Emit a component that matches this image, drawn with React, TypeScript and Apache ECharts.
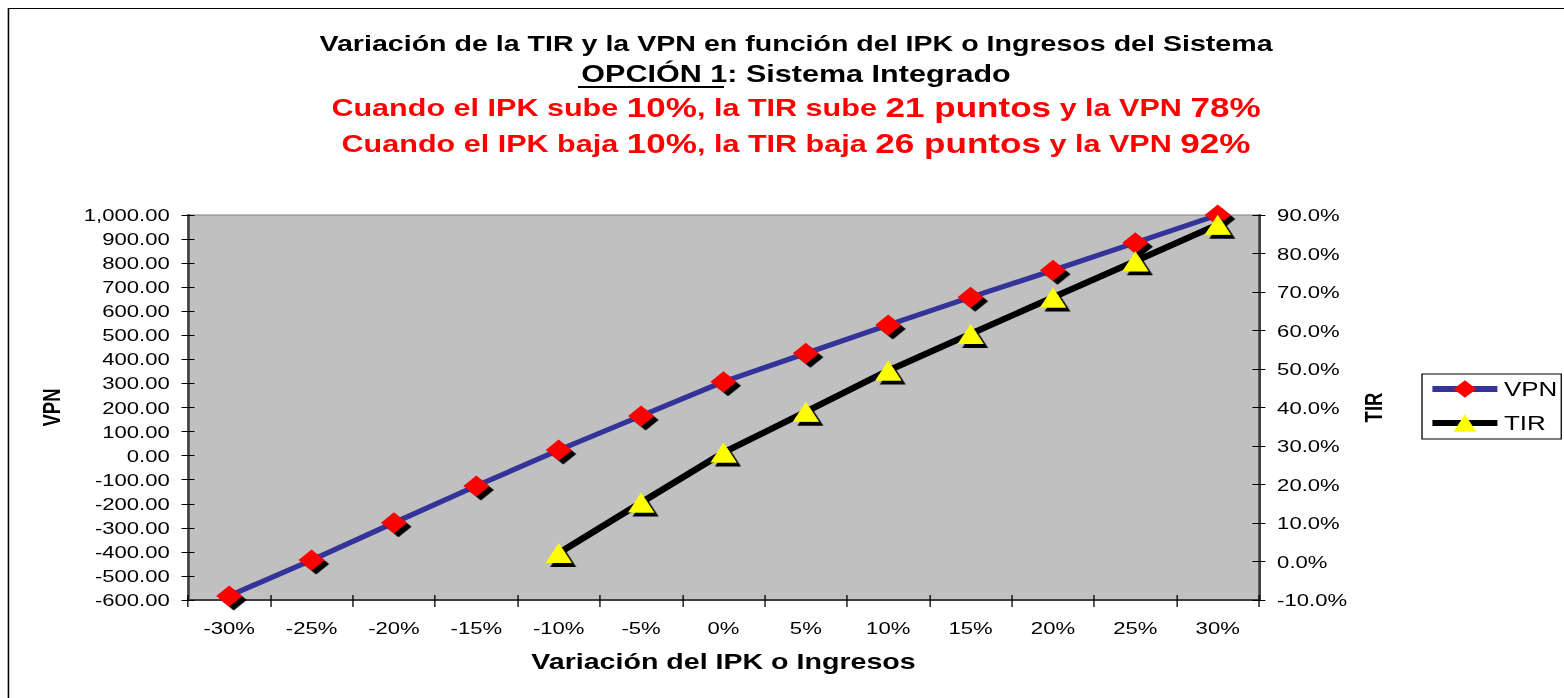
import React, { useEffect, useRef } from 'react';
import * as echarts from 'echarts';

// ---- data ----
const categories = ['-30%', '-25%', '-20%', '-15%', '-10%', '-5%', '0%', '5%', '10%', '15%', '20%', '25%', '30%'];
const vpnValues = [-583, -434, -279, -126, 23, 165, 307, 425, 543, 658, 770, 885, 1000];
const tirValues: (number | null)[] = [null, null, null, null, 2.2, 15.3, 28.3, 38.9, 49.6, 59.1, 68.6, 78.0, 87.5];
const seriesNames = ['VPN', 'TIR'];
const titleLine1 = 'Variación de la TIR y la VPN en función del IPK o Ingresos del Sistema';
const titleLine2 = '{u|OPCIÓN 1}: Sistema Integrado';
const titleLine3 = 'Cuando el IPK sube {b|10%}, la TIR sube {b|21 puntos} y la VPN {b|78%}';
const titleLine4 = 'Cuando el IPK baja {b|10%}, la TIR baja {b|26 puntos} y la VPN {b|92%}';
const xAxisName = 'Variación del IPK o Ingresos';

// ---- layout ----
const SX = 1.3; // the original picture is stretched horizontally
const W = 1564 / SX;
const H = 698;
const FF = '"Liberation Sans", Arial, Helvetica, sans-serif';
const CX = 796 / SX;

const fmtVpn = (v: number) =>
  v.toLocaleString('en-US', { minimumFractionDigits: 2, maximumFractionDigits: 2 });
const fmtTir = (v: number) => v.toFixed(1) + '%';

export default function App() {
  const ref = useRef<HTMLDivElement>(null);
  useEffect(() => {
    const chart = echarts.init(ref.current!, null, { renderer: 'svg' });
    const axisLineStyle = { color: '#404040', width: 2 };
    const tickStyle = { color: '#000', width: 1 };
    const labelStyle = { fontSize: 17, color: '#000', fontFamily: FF };
    const nameStyle = { fontSize: 18.5, fontWeight: 'bold' as const, color: '#000', fontFamily: FF };
    const option: any = {
      animation: false,
      textStyle: { fontFamily: FF },
      grid: {
        left: 188 / SX,
        right: W - 1259 / SX,
        top: 215,
        bottom: H - 600,
        show: true,
        backgroundColor: '#C0C0C0',
        borderColor: '#808080',
        borderWidth: 1,
      },
      graphic: [
        {
          type: 'rect',
          silent: true,
          shape: { x: 6.5, y: 8.5, width: 3000, height: 3000 },
          style: { fill: 'none', stroke: '#000', lineWidth: 1.2 },
        },
        {
          type: 'text',
          x: CX,
          y: 43,
          style: {
            text: titleLine1,
            fontSize: 22,
            fontWeight: 'bold',
            fontFamily: FF,
            fill: '#000',
            align: 'center',
            verticalAlign: 'middle',
          },
        },
        {
          type: 'text',
          x: CX,
          y: 74,
          style: {
            text: titleLine2,
            fontSize: 23.5,
            fontWeight: 'bold',
            fontFamily: FF,
            fill: '#000',
            align: 'center',
            verticalAlign: 'middle',
            rich: { u: { fontSize: 23.5, fontWeight: 'bold', fontFamily: FF, fill: '#000' } },
          },
        },
        {
          type: 'line',
          silent: true,
          shape: { x1: 578 / SX, y1: 87, x2: 724 / SX, y2: 87 },
          style: { stroke: '#000', lineWidth: 2 },
        },
        {
          type: 'text',
          x: CX,
          y: 108,
          style: {
            text: titleLine3,
            fontSize: 23.5,
            fontWeight: 'bold',
            fontFamily: FF,
            fill: '#FF0000',
            align: 'center',
            verticalAlign: 'middle',
            rich: { b: { fontSize: 27, fontWeight: 'bold', fontFamily: FF, fill: '#FF0000' } },
          },
        },
        {
          type: 'text',
          x: CX,
          y: 144,
          style: {
            text: titleLine4,
            fontSize: 23.5,
            fontWeight: 'bold',
            fontFamily: FF,
            fill: '#FF0000',
            align: 'center',
            verticalAlign: 'middle',
            rich: { b: { fontSize: 27, fontWeight: 'bold', fontFamily: FF, fill: '#FF0000' } },
          },
        },
      ],
      legend: {
        orient: 'vertical',
        left: 1422 / SX,
        top: 374,
        borderColor: '#000',
        borderWidth: 1,
        padding: [4, 3, 5, 5],
        itemWidth: 50,
        itemHeight: 22,
        itemGap: 12,
        selectedMode: false,
        data: seriesNames,
        textStyle: { fontSize: 20, color: '#000', fontFamily: FF, lineHeight: 22 },
        lineStyle: { width: 6 },
        itemStyle: { shadowBlur: 0, shadowOffsetX: 0, shadowOffsetY: 0, shadowColor: 'rgba(0,0,0,0)' },
      },
      xAxis: [
        {
          type: 'category',
          data: categories,
          position: 'bottom',
          boundaryGap: true,
          axisLine: { show: true, onZero: false, lineStyle: axisLineStyle },
          axisTick: { show: true, inside: false, length: 7, lineStyle: tickStyle },
          axisLabel: { ...labelStyle, margin: 19 },
          splitLine: { show: false },
          name: xAxisName,
          nameLocation: 'middle',
          nameGap: 50,
          nameTextStyle: { fontSize: 22, fontWeight: 'bold', color: '#000', fontFamily: FF },
        },
        {
          type: 'category',
          data: categories,
          position: 'bottom',
          boundaryGap: true,
          axisLine: { show: false, onZero: false },
          axisTick: { show: true, inside: true, length: 5, lineStyle: tickStyle },
          axisLabel: { show: false },
          splitLine: { show: false },
        },
      ],
      yAxis: [
        {
          type: 'value',
          position: 'left',
          min: -600,
          max: 1000,
          interval: 100,
          axisLine: { show: true, lineStyle: axisLineStyle },
          axisTick: { show: true, inside: false, length: 5, lineStyle: tickStyle },
          axisLabel: { ...labelStyle, margin: 14, formatter: fmtVpn },
          splitLine: { show: false },
          name: 'VPN',
          nameLocation: 'middle',
          nameGap: 95,
          nameTextStyle: nameStyle,
        },
        {
          type: 'value',
          position: 'right',
          min: -10,
          max: 90,
          interval: 10,
          axisLine: { show: true, lineStyle: axisLineStyle },
          axisTick: { show: true, inside: false, length: 5, lineStyle: tickStyle },
          axisLabel: { ...labelStyle, margin: 14, formatter: fmtTir },
          splitLine: { show: false },
          name: 'TIR',
          nameLocation: 'middle',
          nameGap: 77,
          nameTextStyle: nameStyle,
        },
        {
          type: 'value',
          position: 'left',
          min: -600,
          max: 1000,
          interval: 100,
          axisLine: { show: false },
          axisTick: { show: true, inside: true, length: 5, lineStyle: tickStyle },
          axisLabel: { show: false },
          splitLine: { show: false },
        },
        {
          type: 'value',
          position: 'right',
          min: -10,
          max: 90,
          interval: 10,
          axisLine: { show: false },
          axisTick: { show: true, inside: true, length: 5, lineStyle: tickStyle },
          axisLabel: { show: false },
          splitLine: { show: false },
        },
      ],
      series: [
        {
          name: seriesNames[0],
          type: 'line',
          xAxisIndex: 0,
          yAxisIndex: 0,
          data: vpnValues,
          symbol: 'diamond',
          symbolSize: [20, 21],
          lineStyle: { color: '#333399', width: 5 },
          itemStyle: {
            color: '#FF0000',
            shadowColor: '#000',
            shadowBlur: 0,
            shadowOffsetX: 3.5,
            shadowOffsetY: 4,
          },
          z: 2,
        },
        {
          name: seriesNames[1],
          type: 'line',
          xAxisIndex: 0,
          yAxisIndex: 1,
          data: tirValues,
          symbol: 'triangle',
          symbolSize: [20, 20],
          lineStyle: { color: '#000000', width: 6 },
          itemStyle: {
            color: '#FFFF00',
            shadowColor: '#000',
            shadowBlur: 0,
            shadowOffsetX: 3.5,
            shadowOffsetY: 4,
          },
          z: 3,
        },
      ],
    };
    chart.setOption(option);
    return () => chart.dispose();
  }, []);
  return (
    <div
      ref={ref}
      style={{
        position: 'absolute',
        left: 0,
        top: 0,
        width: W,
        height: H,
        transform: `scaleX(${SX})`,
        transformOrigin: '0 0',
      }}
    />
  );
}
